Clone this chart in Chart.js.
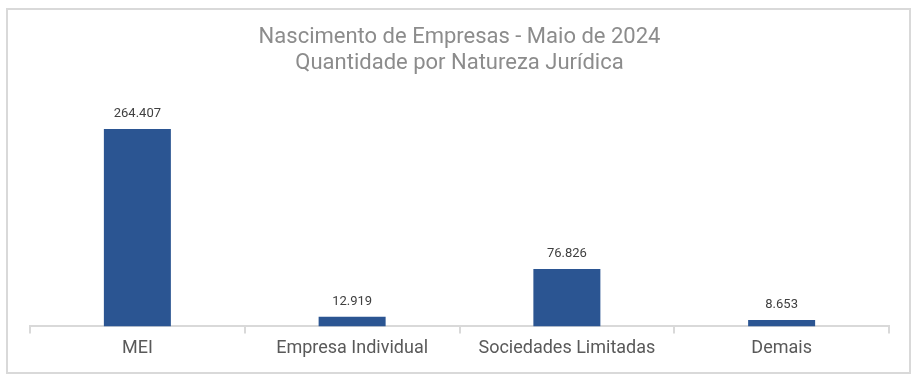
<!DOCTYPE html>
<html><head><meta charset="utf-8">
<script src="https://cdn.jsdelivr.net/npm/chart.js@4/dist/chart.umd.min.js"></script>
<style>
html,body{margin:0;padding:0;background:#fff;}
#wrap{position:absolute;left:0;top:0;width:916px;height:382px;}
#frame{position:absolute;left:6px;top:8px;width:901px;height:362px;border:2px solid #d9d9d9;pointer-events:none;}
</style></head><body>
<div id="wrap"><canvas id="c" width="916" height="382"></canvas></div>
<div id="frame"></div>
<script>
const categories = ["MEI", "Empresa Individual", "Sociedades Limitadas", "Demais"];
const values = [264407, 12919, 76826, 8653];
const titleLines = ["Nascimento de Empresas - Maio de 2024", "Quantidade por Natureza Jurídica"];

function fmt(v){ return String(v).replace(/\B(?=(\d{3})+(?!\d))/g, "."); }

const labelPlugin = {
  id: 'valLabels',
  afterDatasetsDraw(chart){
    const ctx = chart.ctx;
    const meta = chart.getDatasetMeta(0);
    ctx.save();
    ctx.font = '13px Roboto';
    ctx.fillStyle = '#404040';
    ctx.textAlign = 'center';
    ctx.textBaseline = 'alphabetic';
    meta.data.forEach((bar, i) => {
      ctx.fillText(fmt(values[i]), bar.x, bar.y - 12);
    });
    ctx.restore();
  }
};

new Chart(document.getElementById('c'), {
  type: 'bar',
  data: {
    labels: categories,
    datasets: [{
      data: values,
      backgroundColor: '#2B5592',
      categoryPercentage: 1,
      barPercentage: 0.312
    }]
  },
  options: {
    responsive: false,
    animation: false,
    devicePixelRatio: 1,
    layout: { padding: { left: 30, right: 27, top: 0, bottom: 19 } },
    plugins: {
      legend: { display: false },
      tooltip: { enabled: false },
      title: {
        display: true,
        text: titleLines,
        color: '#8c8c8c',
        font: { family: 'Roboto', size: 22, weight: 'normal', lineHeight: 1.18 },
        padding: { top: 25, bottom: 3 }
      }
    },
    scales: {
      x: {
        offset: true,
        border: { display: true, color: '#d9d9d9', width: 2 },
        grid: { display: true, offset: true, drawOnChartArea: false, drawTicks: true, tickLength: 7, color: '#d9d9d9', lineWidth: 2 },
        ticks: { color: '#595959', font: { family: 'Roboto', size: 18 }, padding: 4 }
      },
      y: {
        display: false,
        min: 0,
        max: 330000
      }
    }
  },
  plugins: [labelPlugin]
});
</script>
</body></html>
